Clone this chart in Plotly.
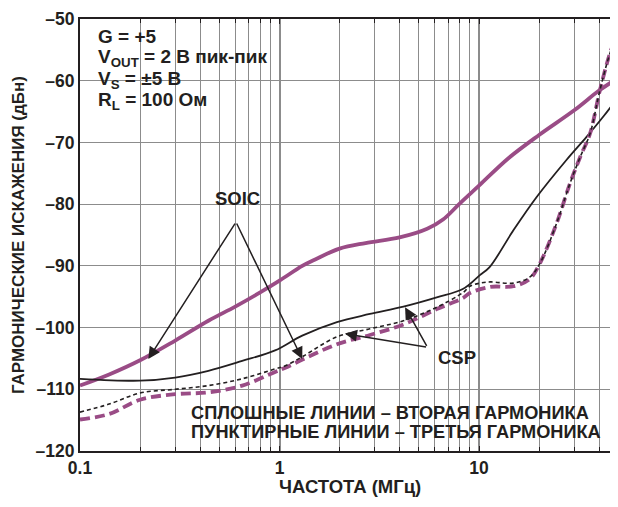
import numpy as np
import plotly.graph_objects as go

# SOIC, second harmonic (solid purple)
freq_soic_2 = [0.1, 0.14, 0.2, 0.3, 0.44, 0.6, 0.8, 1.0, 1.3, 1.5, 2.0, 2.7, 4.0, 5.5, 6.6, 8.0, 10.0, 14.0, 20.0, 30.0, 40.0, 50.0]
hd_soic_2 = [-109.4, -107.6, -105.3, -102.1, -98.9, -96.6, -94.3, -92.4, -90.0, -89.0, -87.2, -86.3, -85.4, -84.0, -82.5, -79.9, -77.0, -72.6, -68.8, -64.8, -61.6, -59.5]

# CSP, second harmonic (solid black)
freq_csp_2 = [0.1, 0.2, 0.3, 0.44, 0.65, 0.95, 1.3, 1.94, 2.84, 4.18, 6.14, 8.34, 10.1, 11.3, 14.9, 19.5, 27.5, 34.6, 42.0, 50.0]
hd_csp_2 = [-108.3, -108.6, -108.1, -107.0, -105.4, -103.7, -101.3, -99.1, -97.8, -96.6, -95.1, -93.7, -91.5, -90.2, -84.2, -78.8, -72.8, -69.1, -65.8, -62.6]

# CSP, third harmonic (dashed black)
freq_csp_3 = [0.1, 0.14, 0.2, 0.3, 0.44, 0.65, 0.95, 1.07, 1.32, 1.94, 2.84, 4.18, 6.14, 8.34, 9.0, 10.1, 11.4, 14.9, 18.0, 20.2, 24.5, 28.6, 32.5, 36.0, 40.4, 45.4, 50.0]
hd_csp_3 = [-113.7, -112.4, -110.6, -110.0, -109.4, -108.3, -106.7, -106.2, -104.6, -101.5, -100.2, -98.9, -96.7, -94.3, -93.3, -92.8, -92.6, -92.8, -91.8, -89.6, -83.1, -76.6, -72.0, -68.6, -61.5, -55.5, -52.0]

# SOIC, third harmonic (dashed purple)
freq_soic_3 = [0.1, 0.14, 0.2, 0.3, 0.44, 0.65, 0.95, 1.07, 1.32, 1.94, 2.84, 4.18, 6.14, 8.34, 9.0, 11.4, 14.9, 18.0, 20.2, 24.5, 28.6, 32.5, 36.0, 40.4, 45.4, 50.0]
hd_soic_3 = [-114.9, -114.0, -111.7, -110.8, -110.5, -109.4, -107.2, -106.5, -105.1, -102.7, -101.2, -99.5, -97.0, -95.2, -94.4, -93.4, -93.3, -92.1, -89.6, -83.1, -76.6, -72.0, -68.6, -61.5, -55.5, -52.0]

y_ticks = [-120, -110, -100, -90, -80, -70, -60, -50]
x_ticks = [0.1, 1, 10]
x_minor = [0.2, 0.3, 0.4, 0.5, 0.6, 0.7, 0.8, 0.9, 2, 3, 4, 5, 6, 7, 8, 9, 20, 30, 40]

purple = '#9A4C86'
grid = '#8C8C8C'
ink = '#231F20'

# the page body has an 8px margin, so the figure is drawn 8px in from the window corner
PAD = 8
W, H = 618 - 2 * PAD, 507 - 2 * PAD
PLOT_L, PLOT_T, PLOT_B = 80, 19, 451          # plot box in window pixels
PLOT_R = 618 - PAD
DECADE = 199.5                                # pixels per decade on the x axis


def px(x):
    # window pixel column -> paper x
    return (x - PLOT_L) / (PLOT_R - PLOT_L)


def py(y):
    # window pixel row -> paper y
    return (PLOT_B - y) / (PLOT_B - PLOT_T)


def label(text, x, y, size, xanchor='center', **kw):
    return dict(text='<b>' + text + '</b>', xref='paper', yref='paper', x=px(x), y=py(y),
                xanchor=xanchor, yanchor='middle', showarrow=False,
                font=dict(size=size, color=ink), **kw)


fig = go.Figure()

fig.add_trace(go.Scatter(x=freq_soic_2, y=hd_soic_2, mode='lines', line_shape='spline',
                         line=dict(color=purple, width=3.8), name='SOIC 2nd'))
fig.add_trace(go.Scatter(x=freq_csp_2, y=hd_csp_2, mode='lines', line_shape='spline',
                         line=dict(color=ink, width=1.8), name='CSP 2nd'))
fig.add_trace(go.Scatter(x=freq_soic_3, y=hd_soic_3, mode='lines', line_shape='spline',
                         line=dict(color=purple, width=3.8, dash='10px,5px'), name='SOIC 3rd'))
fig.add_trace(go.Scatter(x=freq_csp_3, y=hd_csp_3, mode='lines', line_shape='spline',
                         line=dict(color=ink, width=1.6, dash='4px,3px'), name='CSP 3rd'))

# white boxes that hide the grid behind the labels
boxes = [(88, 20, 278, 117), (207, 175, 273, 215), (430, 337, 480, 377), (185, 388, 620, 450)]
shapes = []
for x0, y0, x1, y1 in boxes:
    shapes.append(dict(type='rect', xref='paper', yref='paper', x0=px(x0), x1=px(x1),
                       y0=py(y1), y1=py(y0), fillcolor='white', line_width=0, layer='between'))

annotations = []
cond = ['G = +5', 'V<sub>OUT</sub> = 2 В пик-пик', 'V<sub>S</sub> = ±5 В', 'R<sub>L</sub> = 100 Ом']
for i, t in enumerate(cond):
    annotations.append(label(t, 96, 37 + i * 21.4, 19, xanchor='left'))

annotations.append(label('SOIC', 237, 199, 18.5))
annotations.append(label('CSP', 457, 357, 18.5))
annotations.append(label('СПЛОШНЫЕ ЛИНИИ – ВТОРАЯ ГАРМОНИКА', 189, 413, 18.2, xanchor='left'))
annotations.append(label('ПУНКТИРНЫЕ ЛИНИИ – ТРЕТЬЯ ГАРМОНИКА', 189, 432, 18.2, xanchor='left'))

# arrows: (tip freq, tip dB, tail freq, tail dB)
arrows = [(0.22, -105.1, 0.605, -82.9), (1.30, -105.1, 0.605, -82.9),
          (2.13, -101.0, 5.52, -103.2), (4.26, -96.7, 5.52, -103.2)]
for fx, fy, tx, ty in arrows:
    annotations.append(dict(text='', x=np.log10(fx), y=fy, ax=np.log10(tx), ay=ty,
                            xref='x', yref='y', axref='x', ayref='y', showarrow=True,
                            arrowhead=2, arrowsize=1.6, arrowwidth=1.5, arrowcolor=ink, standoff=0))

annotations.append(label('ЧАСТОТА (МГц)', 350, 487, 18.5))
annotations.append(label('ГАРМОНИЧЕСКИЕ ИСКАЖЕНИЯ (дБн)', 18, 235, 17, textangle=-90))

fig.update_layout(
    width=W, height=H,
    margin=dict(l=PLOT_L - PAD, r=0, t=PLOT_T - PAD, b=H - (PLOT_B - PAD), autoexpand=False),
    plot_bgcolor='white', paper_bgcolor='white',
    showlegend=False,
    font=dict(family='Liberation Sans, Arial', size=16, color=ink),
    shapes=shapes,
    annotations=annotations,
)

fig.update_xaxes(type='log', range=[-1, -1 + (PLOT_R - PLOT_L) / DECADE], automargin=False,
                 tickvals=x_ticks, ticktext=[str(v) for v in x_ticks],
                 tickfont=dict(size=17.5, weight='bold'),
                 ticks='inside', ticklen=5, tickcolor=ink,
                 showgrid=True, gridcolor=grid, gridwidth=1.5,
                 minor=dict(tickvals=x_minor, showgrid=True, gridcolor=grid, gridwidth=1.3,
                            ticks='inside', ticklen=4, tickcolor=ink),
                 showline=True, linecolor=ink, linewidth=2, mirror='ticks', zeroline=False)

fig.update_yaxes(range=[-120, -50], tickvals=y_ticks, automargin=False,
                 ticktext=['–' + str(abs(v)) for v in y_ticks],
                 tickfont=dict(size=17.5, weight='bold'),
                 showgrid=True, gridcolor=grid, gridwidth=1.3,
                 showline=True, linecolor=ink, linewidth=2, zeroline=False)

fig.write_html("out.html")
